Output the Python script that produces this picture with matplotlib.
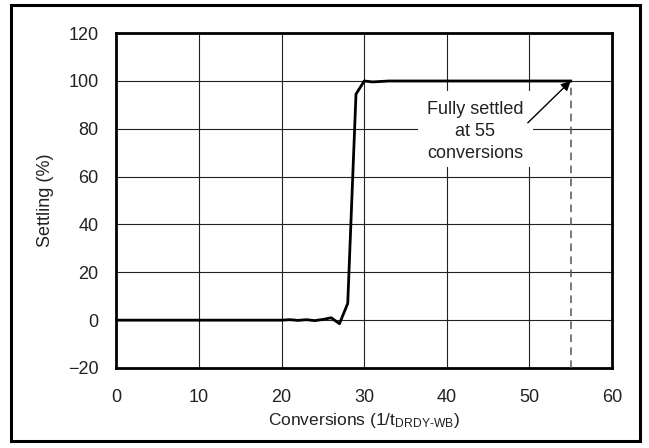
import numpy as np
import matplotlib
matplotlib.use("Agg")
import matplotlib.pyplot as plt
from matplotlib.patches import Rectangle

plt.rcParams['font.family'] = ['Liberation Sans', 'DejaVu Sans']
plt.rcParams['mathtext.fontset'] = 'custom'
plt.rcParams['mathtext.rm'] = 'Liberation Sans'
plt.rcParams['mathtext.it'] = 'Liberation Sans:italic'

# data ======================================================================
conversions = np.arange(0, 56)
settling = np.zeros(56)
settling[20:33] = [0, 0.2, -0.1, 0.2, -0.2, 0.3, 1.0, -1.5, 7, 94.5, 100, 99.6, 99.8]
settling[33:] = 100

x_ticks = [0, 10, 20, 30, 40, 50, 60]
y_ticks = [-20, 0, 20, 40, 60, 80, 100, 120]
settled_at = 55

fig = plt.figure(figsize=(6.49, 4.48), dpi=100)
ax = fig.add_axes([0.1795, 0.1786, 0.943 - 0.1795, 0.926 - 0.1786])

# outer frame
fig.patches.append(Rectangle((0.017, 0.016), 0.969, 0.973, transform=fig.transFigure,
                             fill=False, edgecolor='black', linewidth=2.2))

ax.plot(conversions, settling, color='black', linewidth=2.0, zorder=4)
ax.plot([settled_at, settled_at], [-20, 100], color='#555555', linestyle=(0, (5, 3.5)),
        linewidth=1.1, zorder=3)

ax.set_xlim(0, 60)
ax.set_ylim(-20, 120)
ax.set_xticks(x_ticks)
ax.set_yticks(y_ticks)
ax.grid(True, color='#222222', linewidth=0.8)
ax.set_axisbelow(True)
ax.tick_params(length=0, labelsize=13, colors='#222222')
ax.tick_params(axis='y', pad=13)
ax.tick_params(axis='x', pad=15)
for s in ax.spines.values():
    s.set_linewidth(2.0)

# white box behind the note
ax.add_patch(Rectangle((36.5, 64), 13.9, 32, facecolor='white', edgecolor='none', zorder=2))
ax.text(43.4, 79.0, "Fully settled\nat 55\nconversions", ha='center', va='center',
        fontsize=13, color='#222222', linespacing=1.4, zorder=5)
ax.annotate("", xy=(settled_at, 100), xytext=(49.8, 82.5),
            arrowprops=dict(arrowstyle='-|>', color='black', lw=1.0,
                            mutation_scale=14, shrinkA=0, shrinkB=0), zorder=5)

ax.set_xlabel("Conversions (1/t$_{\\mathrm{DRDY\u2010WB}}$)", fontsize=12.5, color='#222222', labelpad=4)
ax.set_ylabel("Settling (%)", fontsize=13, color='#222222', labelpad=10)

fig.savefig("out.png", dpi=100)
